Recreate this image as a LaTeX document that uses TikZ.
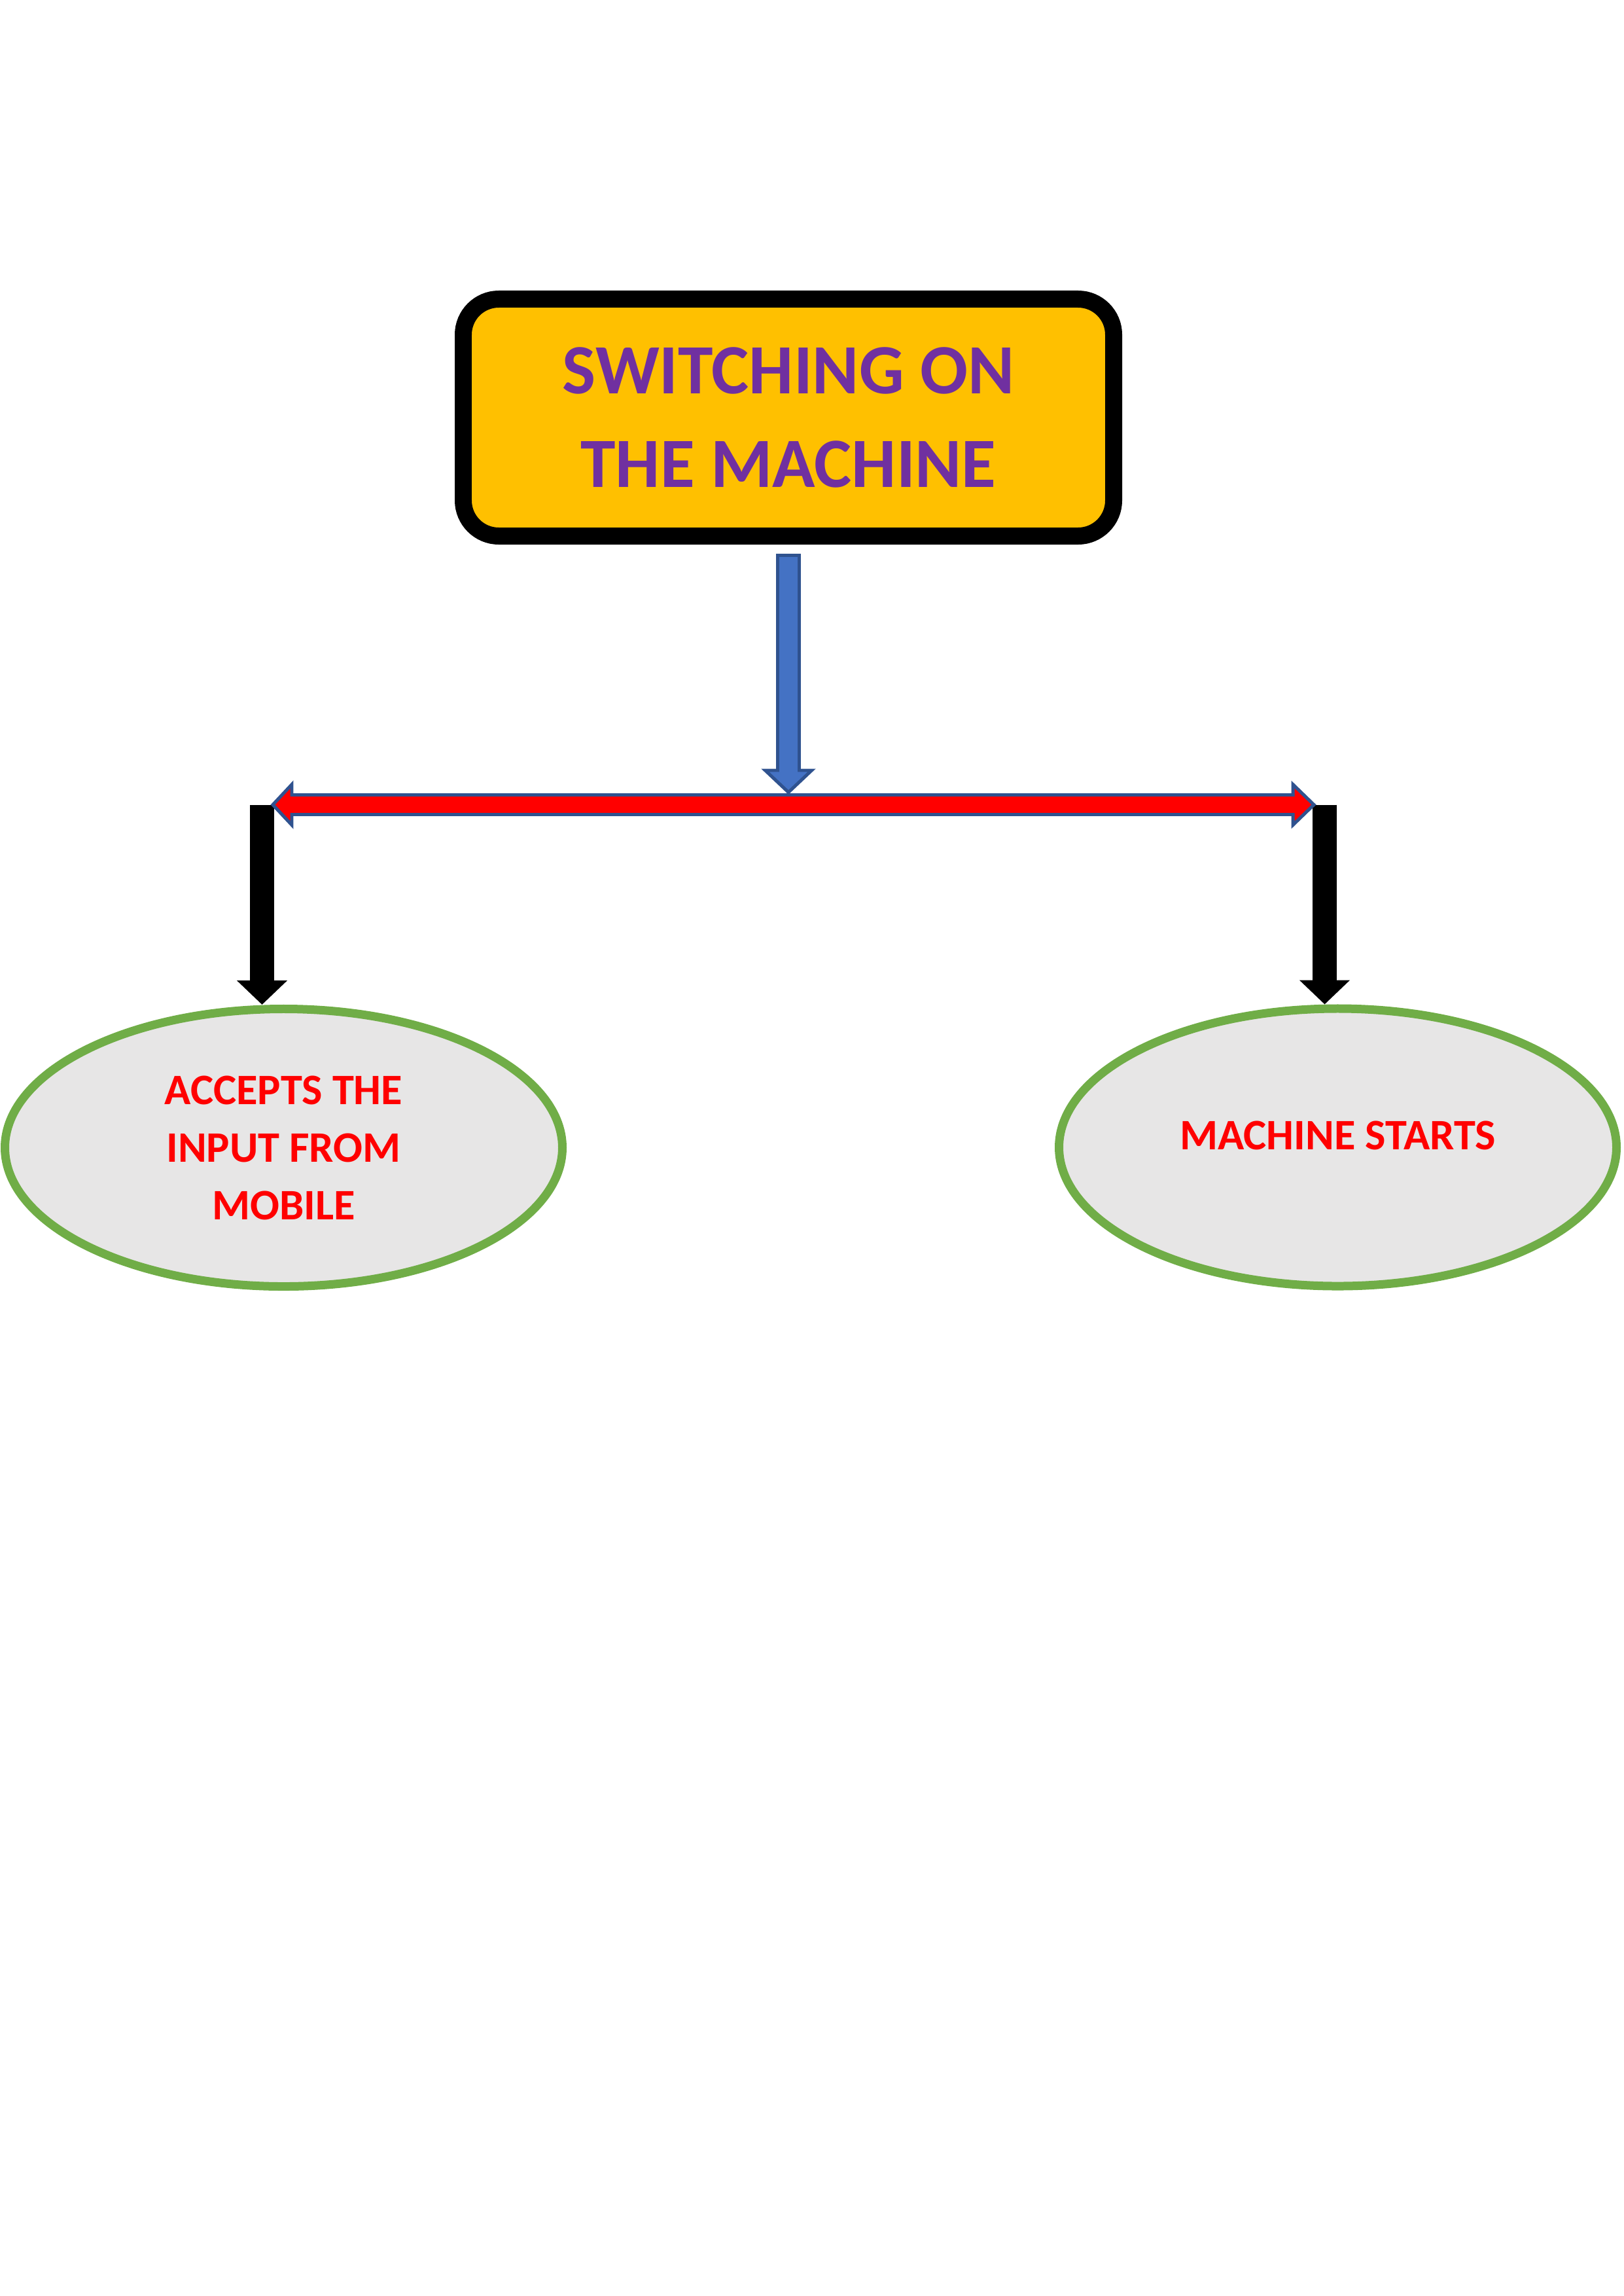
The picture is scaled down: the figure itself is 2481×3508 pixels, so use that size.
\documentclass[tikz,border=0pt]{standalone}
\usepackage{fontspec}
\setmainfont{Carlito}
\usetikzlibrary{shapes.geometric,arrows.meta,calc}

\definecolor{boxorange}{HTML}{FFC000}
\definecolor{titlepurple}{HTML}{7030A0}
\definecolor{flowblue}{HTML}{4472C4}
\definecolor{edgeblue}{HTML}{2F528F}
\definecolor{bubblegray}{HTML}{E7E6E6}
\definecolor{bubblegreen}{HTML}{70AD47}

\begin{document}
\begin{tikzpicture}[x=0.08464mm, y=-0.08464mm,
    startbox/.style={draw=black, fill=boxorange, line width=2.2mm, rounded corners=4.6mm,
        minimum width=84.13mm, minimum height=30.64mm, inner sep=0pt, align=center,
        text=titlepurple, font=\fontsize{26}{34.4}\selectfont\bfseries},
    bubble/.style={ellipse, draw=bubblegreen, fill=bubblegray, line width=1.1mm,
        minimum width=72.11mm, minimum height=35.89mm, inner sep=0pt, align=center,
        text=red, font=\fontsize{16}{21.2}\selectfont\bfseries},
    downarrow/.style={draw=edgeblue, fill=flowblue, line width=0.42mm},
    forkarrow/.style={draw=edgeblue, fill=red, line width=0.42mm},
    blackarrow/.style={line width=3.13mm, -{Triangle[width=6.35mm,length=3.13mm]}}
]

% 页面大小
\useasboundingbox (0,0) rectangle (2481,3508);

% 方框和椭圆
\node[startbox] (switch) at (1205,638) {SWITCHING ON\\THE MACHINE};
\node[bubble] (accept) at (433.5,1753.5) {ACCEPTS THE\\INPUT FROM\\MOBILE};
\node[bubble, text depth=8.6pt] (start) at (2044.5,1753) {MACHINE STARTS};

% 分叉点
\coordinate (fork) at (switch.south |- 0,1229.5);
\coordinate (lend) at (417,1229.5);
\coordinate (rend) at (2008,1229.5);
\coordinate (ldrop) at ($(lend)+(-16.5,0)$);
\coordinate (rdrop) at ($(rend)+(16.5,0)$);

% 蓝色箭头
\draw[downarrow] ($(switch.south)+(-16.5,16.5)$) -- ++(33,0) -- ($(fork)+(16.5,-52.5)$)
    -- ++(19,0) -- ($(fork)+(0,-19)$) -- ($(fork)+(-35.5,-52.5)$) -- ++(19,0) -- cycle;

% 黑色箭头
\draw[blackarrow] (ldrop) -- (ldrop |- accept.north);
\draw[blackarrow] (rdrop) -- (rdrop |- start.north);

% 红色双向箭头
\draw[forkarrow] (lend) -- ++(29,-31) -- ++(0,16) -- ($(rend)+(-32,-15)$) -- ++(0,-16)
    -- (rend) -- ++(-32,31) -- ++(0,-16) -- ($(lend)+(29,15)$) -- ++(0,16) -- cycle;

\end{tikzpicture}
\end{document}
